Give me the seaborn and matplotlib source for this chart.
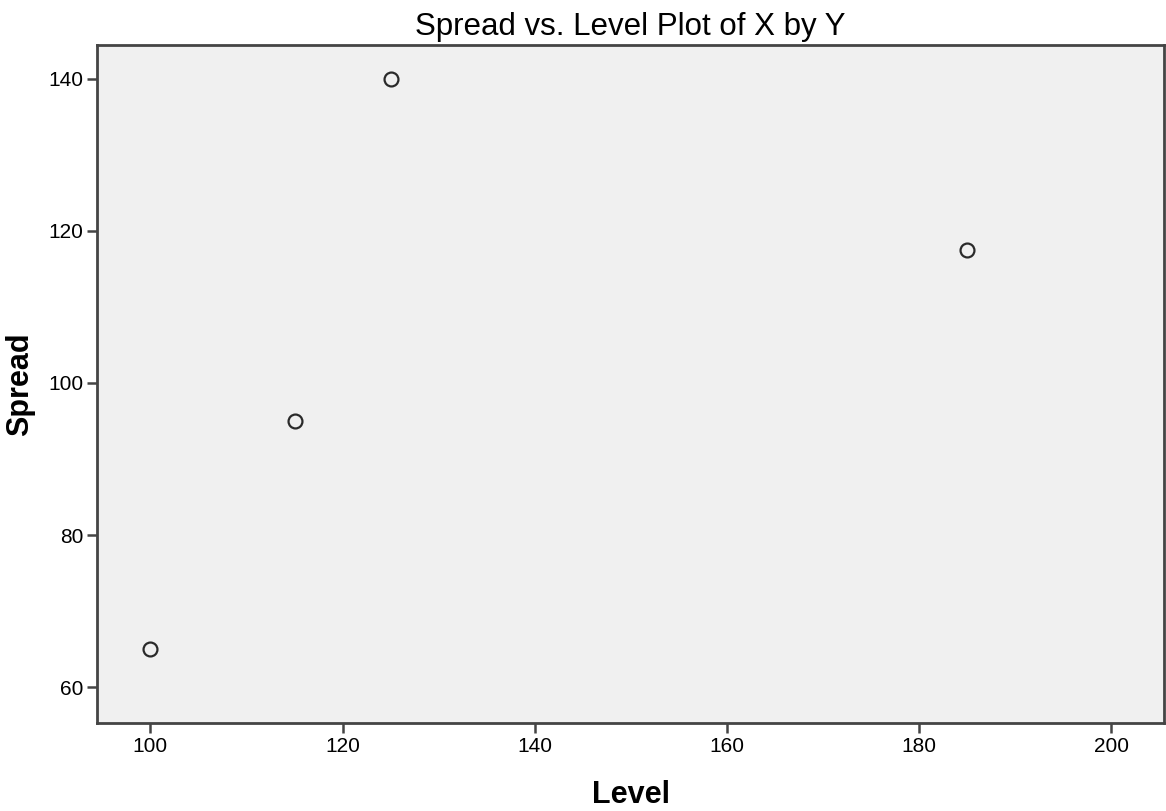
import matplotlib
matplotlib.use("Agg")
import matplotlib.pyplot as plt
import seaborn as sns
import pandas as pd

# data
level = [100, 115, 125, 185]
spread = [65, 95, 140, 117.5]
x_ticks = [100, 120, 140, 160, 180, 200]
y_ticks = [60, 80, 100, 120, 140]

df = pd.DataFrame({"Level": level, "Spread": spread})

sns.set_style("white")
plt.rcParams["font.family"] = ["Liberation Sans", "DejaVu Sans"]

fig = plt.figure(figsize=(11.66, 8.11), dpi=100)
ax = fig.add_axes([97.3 / 1166, 88 / 811, 1066.7 / 1166, 678.3 / 811])
ax.set_facecolor("#f0f0f0")

sns.scatterplot(data=df, x="Level", y="Spread", ax=ax, s=100,
                facecolor="#f0f0f0", edgecolor="#2a2a2a", linewidth=1.6, zorder=3)

ax.set_xlim(94.47, 205.5)
ax.set_ylim(55.3, 144.46)
ax.set_xticks(x_ticks)
ax.set_yticks(y_ticks)
ax.tick_params(axis="both", direction="out", length=7.2, width=1.8, color="#444444",
               labelsize=15, labelcolor="black", pad=3, bottom=True, left=True)

for side in ["left", "bottom", "top", "right"]:
    ax.spines[side].set_color("#444444")
    ax.spines[side].set_linewidth(2)

ax.set_title("Spread vs. Level Plot of X by Y", fontsize=22.5, color="black", pad=7)
ax.set_xlabel("Level", fontsize=22, fontweight="bold", color="black", labelpad=17)
ax.set_ylabel("Spread", fontsize=22, fontweight="bold", color="black", labelpad=9)

plt.savefig("out.png", dpi=100)
